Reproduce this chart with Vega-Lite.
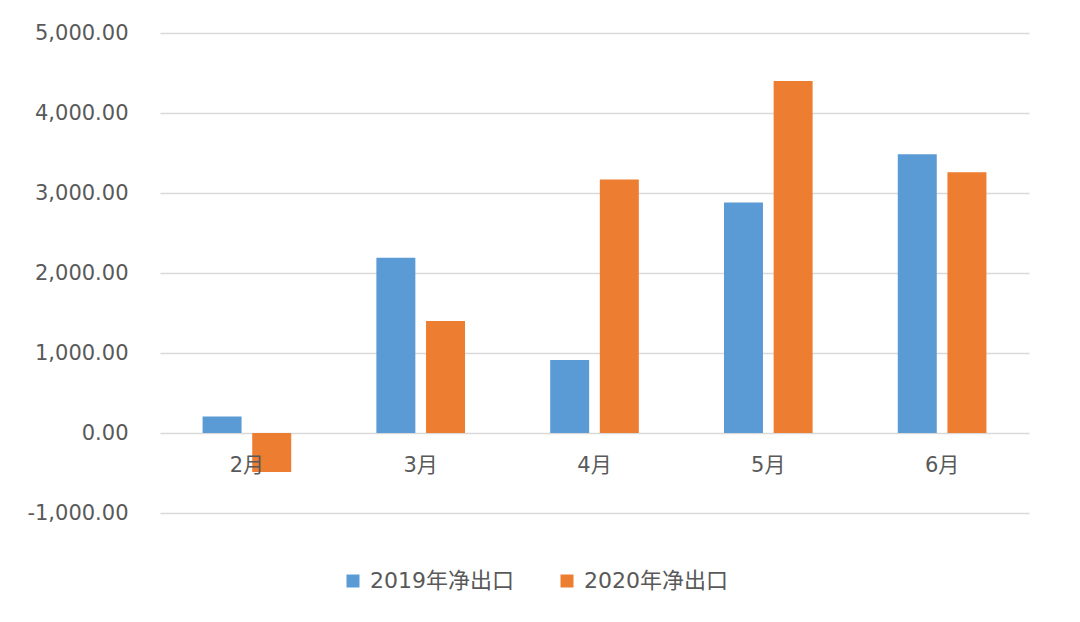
{
  "$schema": "https://vega.github.io/schema/vega-lite/v6.json",
  "autosize": "none",
  "width": 869,
  "height": 480,
  "padding": {"left": 160, "top": 33, "right": 51, "bottom": 109},
  "background": "white",
  "config": {
    "font": "DejaVu Sans, Noto Sans CJK SC",
    "view": {"stroke": null}
  },
  "data": {
    "values": [
      {"month": "2月", "series": "2019年净出口", "value": 205},
      {"month": "2月", "series": "2020年净出口", "value": -487},
      {"month": "3月", "series": "2019年净出口", "value": 2191},
      {"month": "3月", "series": "2020年净出口", "value": 1400},
      {"month": "4月", "series": "2019年净出口", "value": 912},
      {"month": "4月", "series": "2020年净出口", "value": 3168},
      {"month": "5月", "series": "2019年净出口", "value": 2880},
      {"month": "5月", "series": "2020年净出口", "value": 4400},
      {"month": "6月", "series": "2019年净出口", "value": 3484},
      {"month": "6月", "series": "2020年净出口", "value": 3259}
    ]
  },
  "mark": {"type": "bar"},
  "encoding": {
    "x": {
      "field": "month",
      "type": "nominal",
      "sort": ["2月", "3月", "4月", "5月", "6月"],
      "scale": {"paddingInner": 0.49, "paddingOuter": 0.245},
      "axis": {
        "title": null,
        "orient": "bottom",
        "offset": -80,
        "zindex": 1,
        "domain": false,
        "ticks": false,
        "labelAngle": 0,
        "labelPadding": 21,
        "labelFontSize": 21,
        "labelColor": "#595959",
        "labelFont": "DejaVu Sans, Noto Sans CJK SC"
      }
    },
    "xOffset": {
      "field": "series",
      "type": "nominal",
      "scale": {"paddingInner": 0.215, "paddingOuter": 0}
    },
    "y": {
      "field": "value",
      "type": "quantitative",
      "scale": {"domain": [-1000, 5000], "nice": false, "zero": true},
      "axis": {
        "title": null,
        "values": [-1000, 0, 1000, 2000, 3000, 4000, 5000],
        "format": ",.2f",
        "labelExpr": "replace(datum.label, '−', '-')",
        "domain": false,
        "ticks": false,
        "labelPadding": 32,
        "labelFontSize": 21,
        "labelColor": "#595959",
        "gridColor": "#D9D9D9",
        "gridWidth": 1.3
      }
    },
    "color": {
      "field": "series",
      "type": "nominal",
      "scale": {"domain": ["2019年净出口", "2020年净出口"], "range": ["#5B9BD5", "#ED7D31"]},
      "legend": {
        "title": null,
        "orient": "none",
        "direction": "horizontal",
        "legendX": 182,
        "legendY": 537,
        "symbolType": "square",
        "symbolSize": 169,
        "symbolStrokeWidth": 0,
        "labelFontSize": 22,
        "labelColor": "#595959",
        "labelOffset": 6,
        "columnPadding": 42,
        "labelFont": "DejaVu Sans, Noto Sans CJK SC"
      }
    }
  }
}
